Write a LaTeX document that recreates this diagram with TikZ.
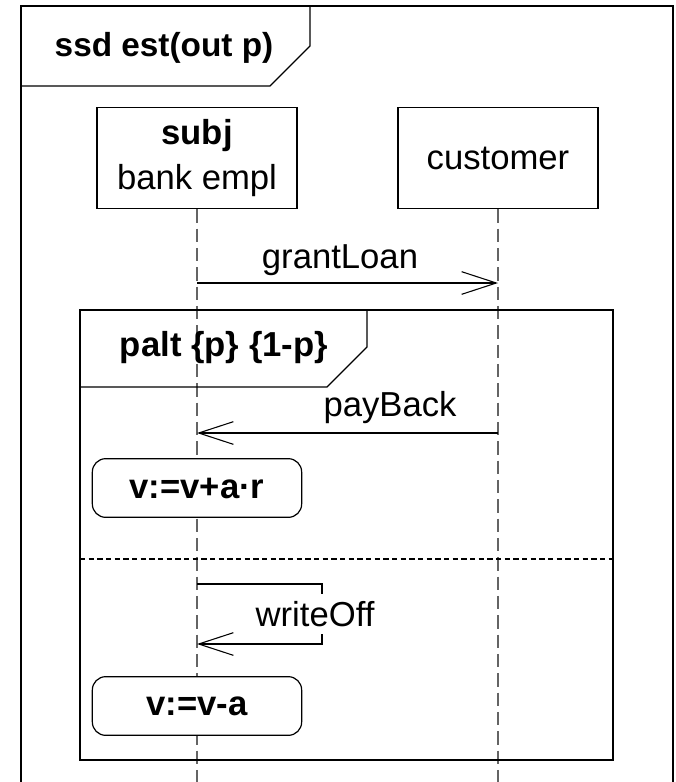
\documentclass[tikz,border=0pt]{standalone}
\usepackage{fontspec}
\setmainfont{Liberation Sans}
\usetikzlibrary{arrows.meta,positioning,calc}
\definecolor{lineGray}{RGB}{100,100,100}

\begin{document}
\begin{tikzpicture}[
  x=0.75pt,y=-0.75pt,
  >={Straight Barb[length=26pt,width=17pt]},
  frm/.style={draw=black,line width=0.9pt},
  obj/.style={draw,line width=0.9pt,fill=white,minimum width=150pt,minimum height=76pt,font=\fontsize{26}{34}\selectfont,align=center,inner sep=0pt},
  act/.style={draw,line width=0.9pt,fill=white,rounded corners=10pt,minimum width=157pt,minimum height=44pt,font=\fontsize{26}{30}\selectfont\bfseries},
  lbl/.style={font=\fontsize{26}{30}\selectfont,inner sep=1pt},
  ttl/.style={font=\fontsize{25}{30}\selectfont\bfseries,inner sep=1pt},
  lifeline/.style={draw=lineGray,line width=0.9pt,dash pattern=on 10pt off 4.5pt},
  sep/.style={draw,line width=0.8pt,dash pattern=on 4pt off 2.5pt},
  msg/.style={draw,line width=0.8pt,->}
]
  \useasboundingbox (0,0) rectangle (675,782);

  % Outer frame
  \draw[frm] (21,782) -- (21,6) -- (673,6) -- (673,782);
  \draw[frm] (21,86) -- (270,86) -- (310,46) -- (310,6);
  \node[ttl] (title) at (164,48) {ssd est(out p)};

  % Lifelines
  \node[obj] (emp) at (197,158) {\textbf{subj}\\bank empl};
  \node[obj] (cus) at (498,158) {customer};
  \coordinate (bot) at (0,782);
  \foreach \n in {emp,cus}
    \draw[lifeline] (\n.south) -- (\n.south |- bot);

  % grantLoan
  \coordinate (eG) at (emp.south |- 0,283);
  \coordinate (cG) at (cus.south |- 0,283);
  \draw[msg] (eG) -- (cG);
  \node[lbl] (grant) at (340,260) {grantLoan};

  % palt fragment
  \draw[frm] (80,310) rectangle (613,760);
  \draw[frm] (80,387) -- (327,387) -- (367,347) -- (367,310);
  \node[ttl,font=\fontsize{26}{30}\selectfont\bfseries] (palt) at (224,348) {palt \{p\} \{1-p\}};
  \draw[sep] (80,559) -- (613,559);

  % first operand
  \coordinate (cP) at (cus.south |- 0,433);
  \coordinate (eP) at (emp.south |- 0,433);
  \draw[msg] (cP) -- (eP);
  \node[lbl] (pay) at (390,408) {payBack};
  \node[act] (upd) at (197,488) {v:=v+a·r};

  % second operand
  \coordinate (wS) at (emp.south |- 0,584);
  \coordinate (wE) at (emp.south |- 0,644);
  \draw[msg] (wS) -- ++(125,0) |- (wE);
  \node[lbl,fill=white,inner xsep=2pt,inner ysep=5.5pt] (woff) at (315,614) {writeOff};
  \node[act] (dec) at (197,706) {v:=v-a};
\end{tikzpicture}
\end{document}
